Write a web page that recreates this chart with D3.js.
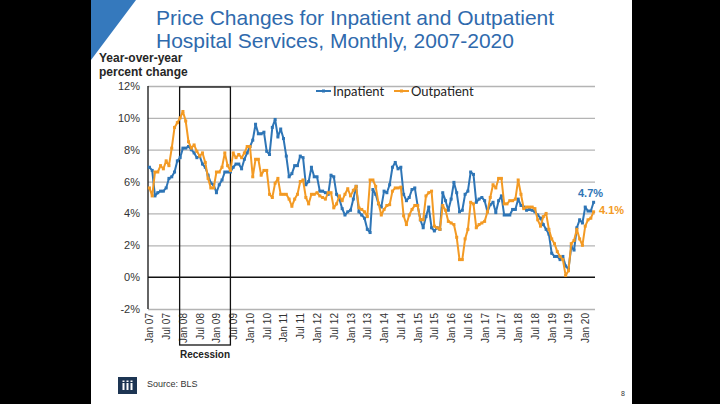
<!DOCTYPE html>
<html><head><meta charset="utf-8">
<script src="https://cdn.jsdelivr.net/npm/d3@7/dist/d3.min.js"></script>
<style>
html,body{margin:0;padding:0;background:#000;}
svg{display:block;}
</style></head>
<body>
<svg id="c" width="720" height="404"></svg>
<script>
// ---- Data (year-over-year % change, monthly Jan 2007 - Apr 2020) ----
const startYear = 2007, startMonth = 0, nMonths = 160;
const inpatient = [
6.9,6.7,5.1,5.3,5.4,5.4,5.6,6.2,6.3,6.6,7.3,7.5,
8.1,8.1,8.2,8.0,7.8,7.5,7.6,7.1,6.9,6.4,5.9,5.8,
5.3,5.8,6.1,6.6,6.6,6.6,6.9,7.1,7.1,6.8,7.4,7.8,
8.2,8.6,9.6,9.0,9.0,9.1,7.9,7.7,9.4,9.9,8.8,9.3,
8.7,7.6,6.3,6.5,7.0,7.0,7.6,7.5,5.8,6.0,6.9,6.3,
6.3,5.4,5.4,5.3,5.2,6.4,6.3,5.2,4.9,4.3,3.9,4.1,
4.2,4.9,5.7,4.1,3.9,3.7,3.0,2.8,5.5,5.2,4.6,4.4,
5.4,5.3,5.8,6.9,7.2,6.8,6.9,5.2,4.8,5.0,5.5,5.6,
4.5,3.6,3.1,3.8,4.4,3.1,2.9,3.1,3.0,5.3,4.8,4.2,
4.9,5.95,5.3,4.1,4.2,5.2,5.4,6.6,6.45,4.7,4.9,5.0,
4.8,4.1,4.55,4.7,4.05,4.8,5.1,3.9,3.9,3.9,4.25,4.25,
4.9,4.5,4.4,4.2,4.25,4.2,4.1,3.9,3.7,3.3,3.0,2.7,
1.5,1.3,1.3,1.1,1.3,0.7,0.5,1.9,1.7,3.1,3.6,3.4,
4.4,4.15,4.15,4.7
];
const outpatient = [
5.6,5.1,6.6,6.6,7.0,6.8,7.3,7.0,8.1,9.4,9.7,10.0,
10.4,9.8,8.5,8.1,8.3,7.9,7.6,7.8,7.2,6.2,5.6,5.6,
6.6,6.6,6.9,7.8,7.0,6.7,7.8,7.5,7.7,7.5,7.8,8.2,
8.2,6.3,7.4,7.4,6.4,6.7,6.7,5.2,5.0,5.9,6.2,5.2,
5.2,5.2,4.9,4.45,4.9,5.2,6.0,6.1,5.0,4.6,5.2,5.2,
5.3,5.1,5.0,4.9,5.3,5.3,4.35,4.6,5.1,4.8,5.2,5.55,
5.1,5.45,5.7,4.35,4.25,4.1,3.8,6.1,6.1,5.7,4.65,3.9,
4.25,4.5,4.55,5.4,5.6,5.6,5.65,3.85,3.3,3.9,4.25,4.5,
4.5,3.6,3.6,5.1,5.3,5.4,3.2,3.1,3.0,4.5,4.2,3.5,
3.4,3.3,2.5,1.1,1.1,2.4,3.0,4.7,4.6,3.1,3.3,3.4,
3.5,4.1,5.0,5.8,5.6,6.2,6.2,4.6,4.6,4.8,4.8,4.9,
6.1,5.2,4.3,4.4,4.4,4.4,4.3,3.6,3.2,3.8,4.0,3.0,
2.4,2.1,1.6,1.3,1.1,0.1,0.4,2.1,2.3,3.0,2.4,2.0,
3.2,3.6,3.7,4.1
];
const seriesNames = ["Inpatient","Outpatient"];
const yTicks = [-2,0,2,4,6,8,10,12];
const xTickLabels = ["Jan 07","Jul 07","Jan 08","Jul 08","Jan 09","Jul 09","Jan 10","Jul 10",
  "Jan 11","Jul 11","Jan 12","Jul 12","Jan 13","Jul 13","Jan 14","Jul 14","Jan 15","Jul 15",
  "Jan 16","Jul 16","Jan 17","Jul 17","Jan 18","Jul 18","Jan 19","Jul 19","Jan 20"];
const recession = {start: 11, end: 29}; // Dec 2007 - Jun 2009 (month index)
const titleLines = ["Price Changes for Inpatient and Outpatient","Hospital Services, Monthly, 2007-2020"];

// ---- Drawing ----
const svg = d3.select("#c");
const BLUE = "#2e75b6", ORANGE = "#f39a24";

// slide background
svg.append("rect").attr("x",91).attr("y",0).attr("width",541).attr("height",404).attr("fill","#fff");
svg.append("path").attr("d","M91,0 L136,0 L91,60 Z").attr("fill","#3579bd");

// title
const title = svg.append("text").attr("x",156).attr("y",25)
  .attr("font-family","Liberation Sans, Arial, sans-serif").attr("font-size",21).attr("fill","#2f6aad");
titleLines.forEach((t,i)=>title.append("tspan").attr("x",156).attr("dy", i?23:0).text(t));

// y-axis title
const yt = svg.append("text").attr("x",99).attr("y",62)
  .attr("font-family","Liberation Sans, Arial, sans-serif").attr("font-size",12).attr("font-weight","bold").attr("fill","#262626");
yt.append("tspan").attr("x",99).text("Year-over-year");
yt.append("tspan").attr("x",99).attr("dy",14).text("percent change");

const months = d3.range(nMonths);
const x = d3.scalePoint().domain(months).range([148,595]).padding(0.5);
const y = d3.scaleLinear().domain([-2,12]).range([309,86]);

// gridlines
svg.append("g").attr("transform","translate(148,0)")
  .call(d3.axisLeft(y).tickValues(yTicks.filter(d=>d!==0)).tickSize(-447).tickFormat(""))
  .call(g=>g.select(".domain").remove())
  .call(g=>g.selectAll("line").attr("stroke","#b4b4b4").attr("stroke-width",1.3));

// y labels
svg.append("g").attr("transform","translate(140,0)")
  .call(d3.axisLeft(y).tickValues(yTicks).tickSize(0).tickFormat(d=>d+"%"))
  .call(g=>g.select(".domain").remove())
  .call(g=>g.selectAll("text").attr("font-family","Liberation Sans, Arial, sans-serif").attr("font-size",11).attr("fill","#333").attr("x",0));

// zero line and left axis
svg.append("line").attr("x1",148).attr("x2",595).attr("y1",y(0)).attr("y2",y(0)).attr("stroke","#111").attr("stroke-width",1.5);
svg.append("line").attr("x1",148).attr("x2",148).attr("y1",y(12)).attr("y2",y(-2)).attr("stroke","#111").attr("stroke-width",1.3);

// x labels
const tickIdx = xTickLabels.map((_,i)=>i*6);
svg.append("g").attr("transform","translate(0,309)")
  .call(d3.axisBottom(x).tickValues(tickIdx).tickSize(0).tickFormat((d,i)=>xTickLabels[i]))
  .call(g=>g.select(".domain").remove())
  .call(g=>g.selectAll("text")
    .attr("font-family","Liberation Sans, Arial, sans-serif").attr("font-size",10).attr("fill","#333")
    .attr("transform","rotate(-90)").attr("text-anchor","end").attr("x",-4).attr("y",0).attr("dy","0.35em"));

// recession box
const rx1 = x(recession.start) - 0.5, rx2 = x(recession.end);
svg.append("rect").attr("x",rx1).attr("y",87).attr("width",rx2-rx1).attr("height",258)
  .attr("fill","none").attr("stroke","#111").attr("stroke-width",1.3);
svg.append("text").attr("x",(rx1+rx2)/2).attr("y",358).attr("text-anchor","middle")
  .attr("font-family","Liberation Sans, Arial, sans-serif").attr("font-size",10).attr("font-weight","bold").attr("fill","#222").text("Recession");

// lines
const line = d3.line().x((d,i)=>x(i)).y(d=>y(d));
[[inpatient,BLUE],[outpatient,ORANGE]].forEach(([data,col])=>{
  svg.append("path").datum(data).attr("d",line).attr("fill","none").attr("stroke",col).attr("stroke-width",2).attr("stroke-linejoin","round");
  svg.append("g").selectAll("rect").data(data).join("rect")
    .attr("x",(d,i)=>x(i)-1.5).attr("y",d=>y(d)-1.5).attr("width",3).attr("height",3).attr("fill",col);
});

// end labels
svg.append("text").attr("x",578).attr("y",197).attr("font-family","Liberation Sans, Arial, sans-serif")
  .attr("font-size",11).attr("font-weight","bold").attr("fill",BLUE).text(inpatient[nMonths-1].toFixed(1)+"%");
svg.append("text").attr("x",599).attr("y",214).attr("font-family","Liberation Sans, Arial, sans-serif")
  .attr("font-size",11).attr("font-weight","bold").attr("fill",ORANGE).text(outpatient[nMonths-1].toFixed(1)+"%");

// legend
const leg = [[316,BLUE,seriesNames[0]],[394,ORANGE,seriesNames[1]]];
leg.forEach(([lx,col,name])=>{
  svg.append("line").attr("x1",lx).attr("x2",lx+15).attr("y1",91).attr("y2",91).attr("stroke",col).attr("stroke-width",2);
  svg.append("rect").attr("x",lx+6).attr("y",89.5).attr("width",3).attr("height",3).attr("fill",col);
  svg.append("text").attr("x",lx+17).attr("y",95.5).attr("font-family","Lato, Carlito, sans-serif").attr("font-size",13).attr("fill","#222").text(name);
});

// source & logo
svg.append("rect").attr("x",118).attr("y",377).attr("width",19).attr("height",17).attr("fill","#1d3553");
[122.5,126.5,130.5].forEach(bx=>{
  svg.append("rect").attr("x",bx).attr("y",383).attr("width",2).attr("height",7).attr("fill","#fff");
  svg.append("rect").attr("x",bx).attr("y",380.5).attr("width",2).attr("height",1.5).attr("fill","#fff");
});
svg.append("text").attr("x",147).attr("y",387).attr("font-family","Liberation Sans, Arial, sans-serif")
  .attr("font-size",9).attr("fill","#333").text("Source: BLS");
svg.append("text").attr("x",621).attr("y",396).attr("font-family","Liberation Sans, Arial, sans-serif")
  .attr("font-size",7).attr("fill","#333").text("8");
</script>
</body></html>
